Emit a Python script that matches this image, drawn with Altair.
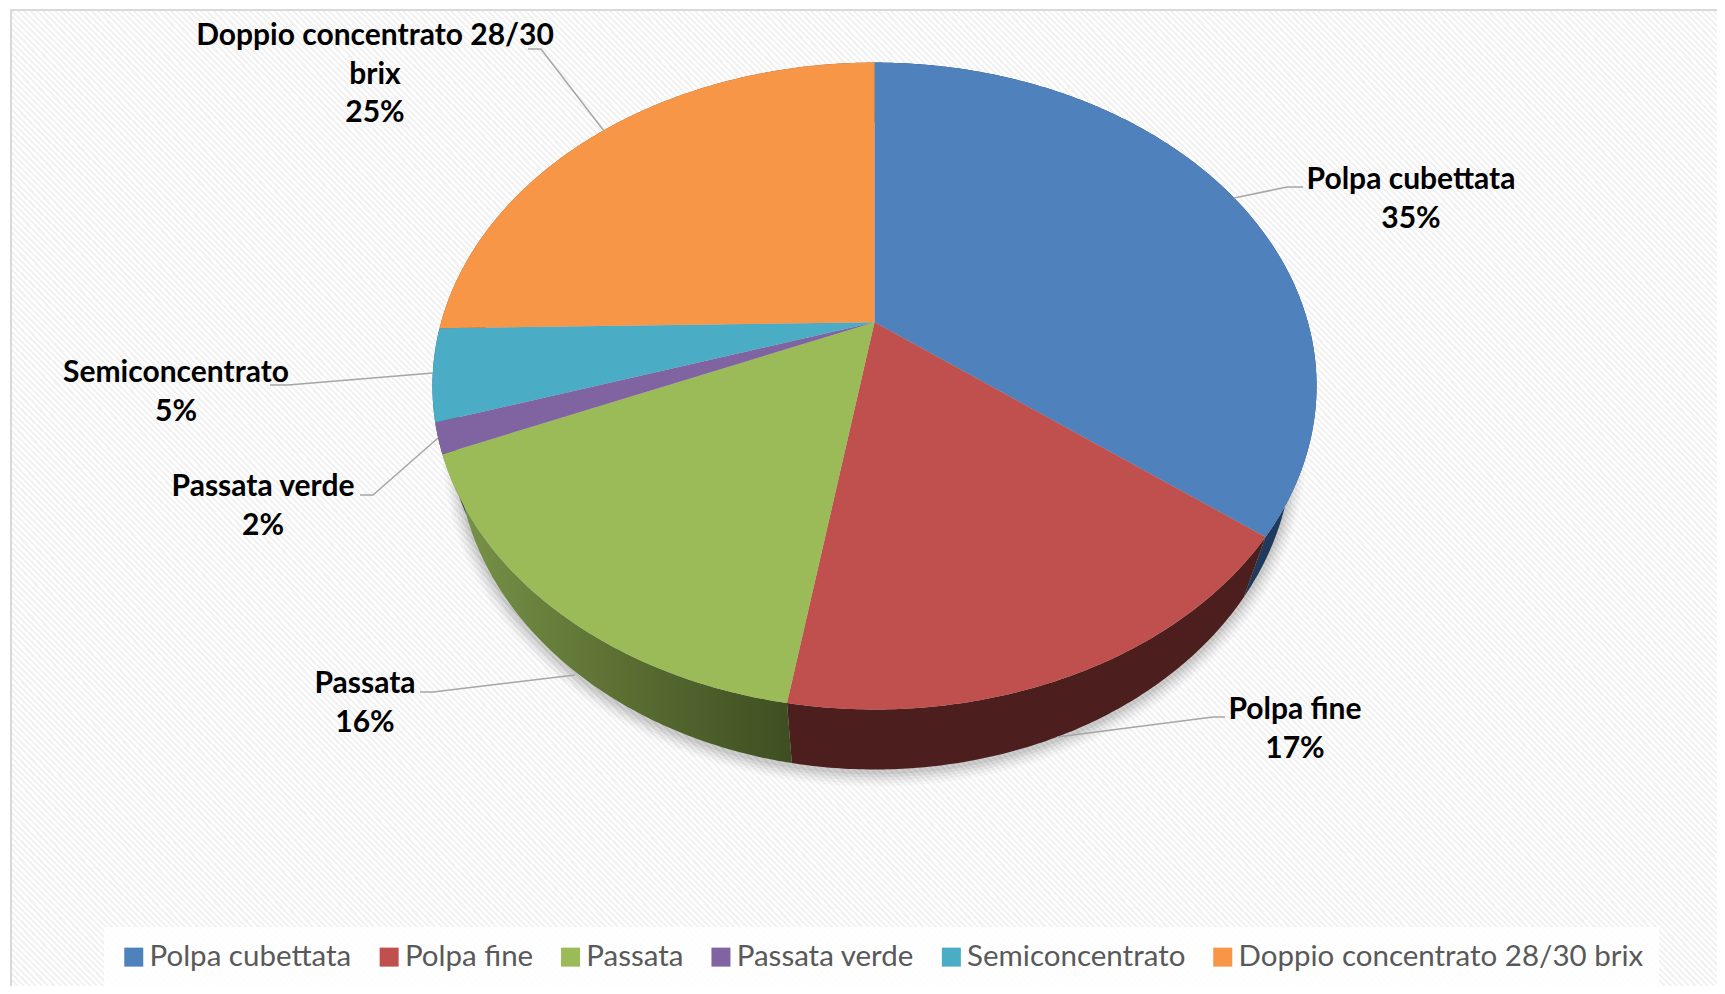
import math
import altair as alt

# ---- data ----
names = ["Polpa cubettata", "Polpa fine", "Passata", "Passata verde", "Semiconcentrato", "Doppio concentrato 28/30 brix"]
shares = [35.4, 17.2, 16.0, 1.5, 4.6, 25.3]
label_names = ["Polpa cubettata", "Polpa fine", "Passata", "Passata verde", "Semiconcentrato", "Doppio concentrato 28/30\nbrix"]
colors = ["#4f81bd", "#c0504d", "#9bbb59", "#8064a2", "#4bacc6", "#f79646"]

# ---- layout (page pixels of the reference) ----
W, H = 1709, 978
OFF = 8
CX, CY, A, B, K = 874.5, 322.3, 433.4, 310.9, 0.197
DROP, SHRINK = 60, 0.055
label_at = [(1411, 180), (1295, 710), (365, 684), (263, 487), (176, 373), (375, 36)]
leaders = [
    [(1303, 187), (1287, 187), (1234, 198)],
    [(1225, 717), (1213, 717), (1057, 737)],
    [(420, 692), (433, 692), (575, 675)],
    [(360, 495), (373, 495), (438, 438)],
    [(270, 385), (288, 385), (433, 373)],
    [(528, 49), (541, 49), (604, 131)],
]
wall_fills = ["#1f3a5c", "#4d1e1e", None, "#3d2f52", "#1f5566", "#8a4f1f"]
green_wall = alt.Gradient(
    gradient="linear", x1=0, y1=0, x2=1, y2=0,
    stops=[alt.GradientStop(offset=0, color="#7a964a"), alt.GradientStop(offset=0.5, color="#5c7033"),
           alt.GradientStop(offset=1, color="#3e4e22")],
)


def rim(pct):
    t = pct / 100 * 2 * math.pi
    d = 1 + K * math.cos(t)
    return (CX + A * math.sin(t) / d, CY - B * math.cos(t) / d)


def low(p):
    return (p[0] - SHRINK * (p[0] - CX), p[1] + DROP)


def local(p):
    return [p[0] - OFF, p[1] - OFF]


def frange(a, b, step=0.15):
    n = max(2, int((b - a) / step))
    return [a + (b - a) * i / n for i in range(n + 1)]


def feature(points, **props):
    ring = [local(p) for p in points]
    ring.append(ring[0])
    return {"type": "Feature", "geometry": {"type": "Polygon", "coordinates": [ring]}, "properties": props}


def collection(features):
    return alt.InlineData(values={"type": "FeatureCollection", "features": features},
                          format=alt.DataFormat(property="features", type="json"))


proj = alt.Projection(type="identity", scale=1, translate=[0, 0])
X = alt.X("x:Q", scale=alt.Scale(domain=[0, W]), axis=None)
Y = alt.Y("y:Q", scale=alt.Scale(domain=[H, 0]), axis=None)

# ---- background hatch ----
period = 4.3
band = (W + H) / math.sqrt(2) / period
n_bands = int(band)
stops = []
for i in range(n_bands):
    a, b = i / n_bands, (i + 0.5) / n_bands
    c = (i + 1) / n_bands
    stops += [alt.GradientStop(offset=a, color="#ffffff"), alt.GradientStop(offset=b, color="#ffffff"),
              alt.GradientStop(offset=b, color="#f2f2f2"), alt.GradientStop(offset=c, color="#f2f2f2")]
ratio = (H - 2) / (W + 10)
s = (1 + ratio) / (1 + ratio ** 2)
hatch = alt.Gradient(gradient="linear", x1=0, y1=1, x2=s, y2=1 - s * ratio, stops=stops)
panel = alt.Chart(alt.Data(values=[{"x": 3, "x2": W + 10, "y": 2, "y2": H + 10}])).mark_rect(
    fill=hatch, stroke="#d9d9d9", strokeWidth=2
).encode(x=X, x2="x2:Q", y=Y, y2="y2:Q")

layers = [panel]

# ---- soft shadow under the body ----
outline = [rim(p) for p in frange(0, 100, 0.4)]
for grow, alpha in [(14, 0.025), (11, 0.03), (8, 0.04), (5, 0.05), (2, 0.06)]:
    pts = []
    for p in outline:
        q = low(p)
        r = math.hypot(q[0] - CX, (q[1] - CY - 60))
        f = 1 + grow / max(r, 1)
        pts.append((CX + (q[0] - CX) * f, CY + 60 + (q[1] - CY - 60) * f + 3))
    layers.append(alt.Chart(collection([feature(pts)])).mark_geoshape(
        fill="#000000", fillOpacity=alpha, strokeWidth=0).project(**proj.to_dict()))

# ---- side walls and top faces ----
edges = [0.0]
for v in shares:
    edges.append(edges[-1] + v)

for i, name in enumerate(names):
    ts = frange(edges[i], edges[i + 1])
    upper = [rim(t) for t in ts]
    strip = upper + [low(p) for p in reversed(upper)]
    fill = green_wall if wall_fills[i] is None else wall_fills[i]
    layers.append(alt.Chart(collection([feature(strip)])).mark_geoshape(
        fill=fill, strokeWidth=0).project(**proj.to_dict()))

faces = []
for i, name in enumerate(names):
    ts = frange(edges[i], edges[i + 1])
    faces.append(feature([(CX, CY)] + [rim(t) for t in ts], name=name))

legend = alt.Legend(
    title=None, orient="none", legendX=96, legendY=919, direction="horizontal", columns=6,
    gridAlign="each", symbolType="square", symbolSize=361, symbolStrokeWidth=0, symbolOpacity=1,
    labelFont="Lato", labelFontSize=29.5, labelColor="#595959", labelOffset=1, labelLimit=0,
    columnPadding=22.4, fillColor="#ffffffcc", padding=15,
)
layers.append(alt.Chart(collection(faces)).mark_geoshape(strokeWidth=0).encode(
    color=alt.Color("properties.name:N", scale=alt.Scale(domain=names, range=colors), sort=names, legend=legend)
).project(**proj.to_dict()))

# ---- leader lines ----
rows = []
for i, line in enumerate(leaders):
    for j, p in enumerate(line):
        rows.append({"x": p[0] - OFF, "y": p[1] - OFF, "k": i, "o": j})
layers.append(alt.Chart(alt.Data(values=rows)).mark_line(color="#a6a6a6", strokeWidth=1.5).encode(
    x=X, y=Y, detail="k:N", order="o:Q"))

# ---- data labels ----
text_rows = []
for lab, v, p in zip(label_names, shares, label_at):
    text_rows.append({"t": f"{lab}\n{round(v)}%", "x": p[0] - OFF, "y": p[1] - OFF})
layers.append(alt.Chart(alt.Data(values=text_rows)).mark_text(
    font="Lato", fontSize=30, fontWeight="bold", color="#000000", lineBreak="\n", lineHeight=38.5,
    align="center", baseline="middle").encode(x=X, y=Y, text="t:N"))

chart = alt.layer(*layers).resolve_scale(color="independent").properties(
    width=W, height=H, padding=0, autosize=alt.AutoSizeParams(type="none"), background="white"
).configure_view(stroke=None)

chart.save("out.html", embed_options={"renderer": "svg", "actions": False})
